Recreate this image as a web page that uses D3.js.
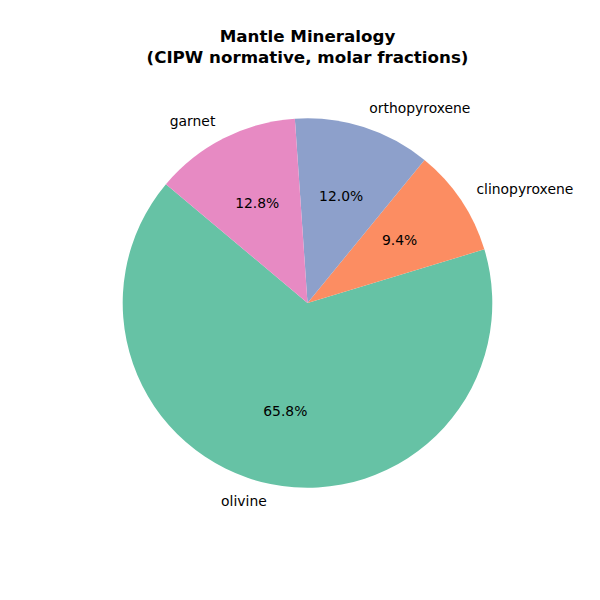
<!DOCTYPE html>
<html>
<head>
<meta charset="utf-8">
<script src="https://cdn.jsdelivr.net/npm/d3@7"></script>
<style>
  body { margin: 0; background: #fff; }
  svg { display: block; font-family: "DejaVu Sans", sans-serif; }
</style>
</head>
<body>
<div id="chart"></div>
<script>
const minerals = ['olivine', 'clinopyroxene', 'orthopyroxene', 'garnet'];
const fractions = [65.8, 9.4, 12.0, 12.8];
const colors = ['#66c2a5', '#fc8d62', '#8da0cb', '#e78ac3'];
const titleLines = ['Mantle Mineralogy', '(CIPW normative, molar fractions)'];

const width = 600, height = 600;
const cx = 307.5, cy = 303, radius = 184.8;
const startDeg = 140; // counter-clockwise from 3 o'clock, like matplotlib

const svg = d3.select('#chart').append('svg')
  .attr('width', width).attr('height', height);

// title
svg.append('g').selectAll('text')
  .data(titleLines).enter().append('text')
  .attr('x', cx)
  .attr('y', (d, i) => 37 + i * 21)
  .attr('text-anchor', 'middle')
  .attr('dominant-baseline', 'middle')
  .attr('font-size', '16.7px')
  .attr('font-weight', 'bold')
  .text(d => d);

const data = minerals.map((m, i) => ({ name: m, value: fractions[i], color: colors[i] }));

// d3 angles run clockwise from 12 o'clock, so go backwards to get CCW
const a0 = (90 - startDeg) * Math.PI / 180;
const pie = d3.pie().value(d => d.value).sort(null)
  .startAngle(a0).endAngle(a0 - 2 * Math.PI);
const arcs = pie(data);
const arc = d3.arc().innerRadius(0).outerRadius(radius);

const g = svg.append('g').attr('transform', `translate(${cx},${cy})`);

g.selectAll('path')
  .data(arcs).enter().append('path')
  .attr('d', arc)
  .attr('fill', d => d.data.color);

const total = d3.sum(fractions);
const mid = d => (d.startAngle + d.endAngle) / 2;

// percentage labels
g.selectAll('text.pct')
  .data(arcs).enter().append('text')
  .attr('class', 'pct')
  .attr('x', d => 0.6 * radius * Math.sin(mid(d)))
  .attr('y', d => -0.6 * radius * Math.cos(mid(d)))
  .attr('text-anchor', 'middle')
  .attr('dominant-baseline', 'middle')
  .attr('font-size', '13.9px')
  .text(d => (d.data.value / total * 100).toFixed(1) + '%');

// category labels
g.selectAll('text.lbl')
  .data(arcs).enter().append('text')
  .attr('class', 'lbl')
  .attr('x', d => 1.1 * radius * Math.sin(mid(d)))
  .attr('y', d => -1.1 * radius * Math.cos(mid(d)))
  .attr('text-anchor', d => Math.sin(mid(d)) < 0 ? 'end' : 'start')
  .attr('dominant-baseline', 'middle')
  .attr('font-size', '13.9px')
  .text(d => d.data.name);
</script>
</body>
</html>
